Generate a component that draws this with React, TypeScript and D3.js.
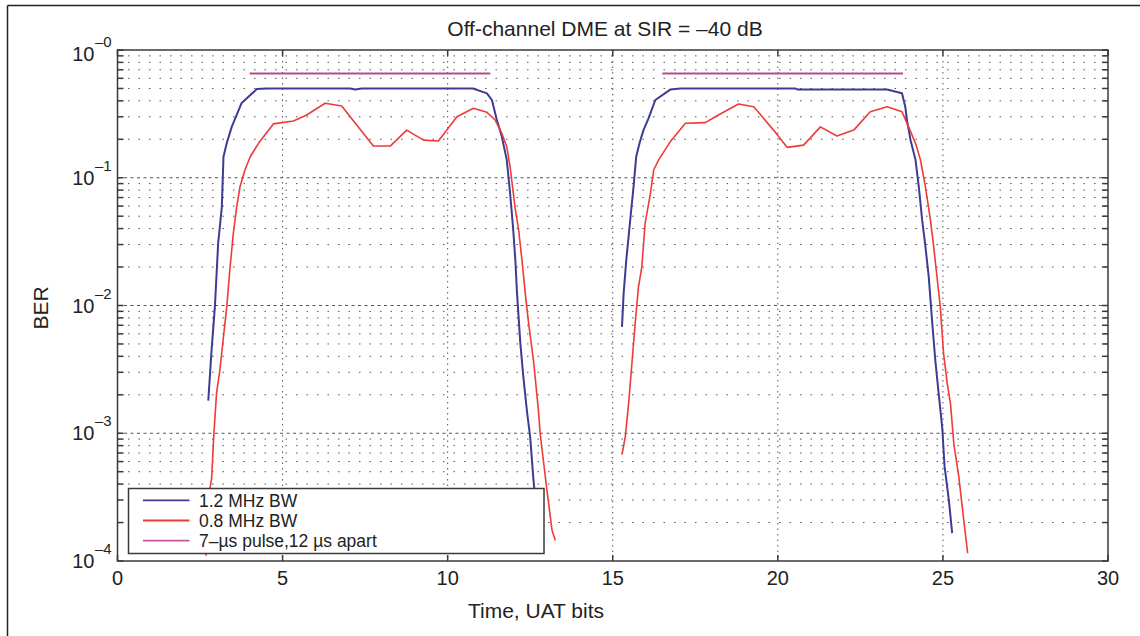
import React from "react";
import * as d3 from "d3";

const W = 1140;
const H = 636;

const titleText = "Off-channel DME at SIR = \u201340 dB";
const xLabelText = "Time, UAT bits";
const yLabelText = "BER";
const xTicks = [0, 5, 10, 15, 20, 25, 30];
const yMajorExps = [0, -1, -2, -3, -4];
const yTickExpLabels = ["\u20130", "\u20131", "\u20132", "\u20133", "\u20134"];
const legendLabels = ["1.2 MHz BW", "0.8 MHz BW", "7\u2013\u00b5s pulse,12 \u00b5s apart"];

const bw12First: [number, number][] = [
  [2.75, 1.8e-3], [2.85, 4.5e-3], [2.95, 9.8e-3], [3.05, 0.031], [3.16, 0.059], [3.21, 0.146],
  [3.31, 0.187], [3.46, 0.25], [3.76, 0.385], [4.22, 0.495], [4.52, 0.5], [7.05, 0.5],
  [7.2, 0.49], [7.4, 0.5], [10.77, 0.5], [11.19, 0.458], [11.34, 0.406], [11.49, 0.283],
  [11.64, 0.21], [11.79, 0.138], [11.89, 0.076], [11.98, 0.041], [12.05, 0.0227], [12.1, 0.0125],
  [12.2, 0.0051], [12.29, 0.0028], [12.4, 0.0015], [12.5, 9.3e-4], [12.59, 4.6e-4],
  [12.7, 2.2e-4], [12.78, 1.2e-4],
];

const bw08First: [number, number][] = [
  [2.68, 1.1e-4], [2.8, 3.7e-4], [2.85, 4.4e-4], [2.92, 1e-3], [3.0, 2.06e-3], [3.1, 3.1e-3],
  [3.2, 5.4e-3], [3.31, 9.8e-3], [3.41, 0.02], [3.51, 0.037], [3.61, 0.059], [3.71, 0.085],
  [3.86, 0.115], [4.02, 0.146], [4.27, 0.186], [4.72, 0.264], [5.33, 0.278], [5.73, 0.31],
  [6.29, 0.383], [6.79, 0.365], [7.75, 0.177], [8.26, 0.177], [8.76, 0.236], [9.27, 0.197],
  [9.72, 0.194], [10.28, 0.3], [10.78, 0.35], [11.19, 0.325], [11.44, 0.283], [11.64, 0.223],
  [11.79, 0.175], [11.89, 0.122], [12.05, 0.056], [12.15, 0.039], [12.25, 0.0227], [12.35, 0.0125],
  [12.45, 0.0073], [12.6, 0.0037], [12.75, 0.0015], [12.8, 1e-3], [13.0, 3.7e-4],
  [13.16, 1.75e-4], [13.26, 1.45e-4],
];

const bw12Second: [number, number][] = [
  [15.28, 6.8e-3], [15.33, 0.0125], [15.41, 0.0227], [15.48, 0.0346], [15.55, 0.053], [15.63, 0.085],
  [15.71, 0.146], [15.81, 0.186], [15.93, 0.236], [16.08, 0.29], [16.29, 0.406], [16.74, 0.49],
  [17.05, 0.5], [20.53, 0.5], [20.6, 0.49], [23.31, 0.49], [23.76, 0.458], [23.86, 0.36],
  [23.91, 0.283], [24.02, 0.197], [24.17, 0.138], [24.27, 0.085], [24.37, 0.047], [24.47, 0.029],
  [24.57, 0.0168], [24.67, 0.0077], [24.77, 0.0037], [24.87, 2.06e-3], [24.98, 1.1e-3],
  [25.05, 5.5e-4], [25.18, 3e-4], [25.28, 1.65e-4],
];

const bw08Second: [number, number][] = [
  [15.28, 6.8e-4], [15.38, 9.4e-4], [15.48, 1.7e-3], [15.58, 3.5e-3], [15.68, 7.3e-3], [15.78, 0.014],
  [15.88, 0.02], [15.98, 0.044], [16.14, 0.075], [16.24, 0.115], [16.39, 0.138], [16.74, 0.191],
  [17.2, 0.267], [17.8, 0.27], [18.2, 0.31], [18.81, 0.378], [19.27, 0.36], [19.87, 0.236],
  [20.28, 0.173], [20.78, 0.18], [21.29, 0.25], [21.79, 0.212], [22.3, 0.236], [22.8, 0.329],
  [23.31, 0.36], [23.76, 0.329], [23.96, 0.25], [24.17, 0.186], [24.32, 0.138], [24.47, 0.085],
  [24.62, 0.047], [24.72, 0.029], [24.82, 0.0168], [24.92, 9.8e-3], [25.02, 4.2e-3], [25.13, 2.46e-3],
  [25.23, 1.7e-3], [25.33, 8.3e-4], [25.48, 4.6e-4], [25.63, 2.1e-4], [25.75, 1.15e-4],
];

const pulseStarts = [4.0, 16.5];
const pulseEnds = [11.29, 23.79];
const pulseLevel = 0.655;

const BLUE = "#3c3c94";
const RED = "#ef3a3a";
const MAGENTA = "#b94790";
const AXIS = "#3a3a3a";
const GRID = "#555";
const FONT = "'Liberation Sans', Arial, sans-serif";

export default function App() {
  const left = 117.5, right = 1108, top = 50, bottom = 561;
  const x = d3.scaleLinear().domain([0, 30]).range([left, right]);
  const y = d3.scaleLog().domain([1e-4, 1]).range([bottom, top]);

  const line = d3
    .line<[number, number]>()
    .x((d) => x(d[0]))
    .y((d) => y(d[1]));

  const minorVals: number[] = [];
  for (let e = -4; e < 0; e++) {
    for (let m = 2; m <= 9; m++) minorVals.push(m * Math.pow(10, e));
  }
  const majorVals = yMajorExps.map((e) => Math.pow(10, e));

  const legX = 128.5, legY = 488.5, legW = 415.5, legH = 65;
  const legRows = [500.3, 520.5, 540.7];
  const legColors = [BLUE, RED, "#c455a8"];

  return (
    <div style={{ position: "fixed", left: 0, top: 0, width: W, height: H, background: "#fff" }}>
      <svg width={W} height={H} style={{ display: "block", fontFamily: FONT }}>
        <rect x={0} y={0} width={W} height={H} fill="#fff" />
        {/* outer frame */}
        <line x1={7.5} y1={5.5} x2={W} y2={5.5} stroke="#222" strokeWidth={1.5} />
        <line x1={7.5} y1={5.5} x2={7.5} y2={H} stroke="#222" strokeWidth={1.5} />

        {/* grid */}
        <g>
          {minorVals.map((v, i) => (
            <line key={"mn" + i} x1={left} x2={right} y1={y(v)} y2={y(v)} stroke={GRID}
              strokeWidth={1} strokeDasharray="1.5,9" />
          ))}
          {majorVals.slice(1, 4).map((v, i) => (
            <line key={"mj" + i} x1={left} x2={right} y1={y(v)} y2={y(v)} stroke={GRID}
              strokeWidth={1} strokeDasharray="3,3.5" />
          ))}
          {xTicks.slice(1, -1).map((t) => (
            <line key={"vg" + t} x1={x(t)} x2={x(t)} y1={top} y2={bottom} stroke={GRID}
              strokeWidth={1} strokeDasharray="1.5,4" />
          ))}
        </g>

        {/* ticks */}
        <g stroke={AXIS} strokeWidth={1.5}>
          {xTicks.map((t) => (
            <g key={"xt" + t}>
              <line x1={x(t)} x2={x(t)} y1={bottom} y2={bottom - 6} />
              <line x1={x(t)} x2={x(t)} y1={top} y2={top + 6} />
            </g>
          ))}
          {[...majorVals, ...minorVals].map((v, i) => (
            <g key={"yt" + i}>
              <line x1={left} x2={left + 6} y1={y(v)} y2={y(v)} />
              <line x1={right} x2={right - 6} y1={y(v)} y2={y(v)} />
            </g>
          ))}
        </g>

        {/* data */}
        <g fill="none" strokeLinejoin="round">
          <path d={line(bw12First) || ""} stroke={BLUE} strokeWidth={2} />
          <path d={line(bw08First) || ""} stroke={RED} strokeWidth={1.6} />
          <path d={line(bw12Second) || ""} stroke={BLUE} strokeWidth={2} />
          <path d={line(bw08Second) || ""} stroke={RED} strokeWidth={1.6} />
          {pulseStarts.map((s, i) => (
            <path key={"p" + i} d={line([[s, pulseLevel], [pulseEnds[i], pulseLevel]]) || ""}
              stroke={MAGENTA} strokeWidth={2} />
          ))}
        </g>

        {/* axes box */}
        <rect x={left} y={top} width={right - left} height={bottom - top} fill="none"
          stroke={AXIS} strokeWidth={1.5} />

        {/* x tick labels */}
        {xTicks.map((t) => (
          <text key={"xl" + t} x={x(t)} y={585} textAnchor="middle" fontSize={20} fill="#222">
            {t}
          </text>
        ))}

        {/* y tick labels */}
        {majorVals.map((v, i) => {
          const off = i === 0 ? 4 : 0;
          return (
            <g key={"yl" + i} fill="#222">
              <text x={94.5} y={y(v) + 7 + off} textAnchor="end" fontSize={20}>10</text>
              <text x={95} y={y(v) - 7 + off} textAnchor="start" fontSize={15}>
                {yTickExpLabels[i]}
              </text>
            </g>
          );
        })}

        {/* title and axis labels */}
        <text x={605} y={36} textAnchor="middle" fontSize={21} fill="#222">{titleText}</text>
        <text x={536} y={618} textAnchor="middle" fontSize={21} fill="#222">{xLabelText}</text>
        <text transform={`translate(48,308) rotate(-90)`} textAnchor="middle" fontSize={21} fill="#222">
          {yLabelText}
        </text>

        {/* legend */}
        <rect x={legX} y={legY} width={legW} height={legH} fill="#fff" stroke={AXIS} strokeWidth={1.5} />
        {legendLabels.map((lab, i) => (
          <g key={"lg" + i}>
            <line x1={143} x2={189.5} y1={legRows[i]} y2={legRows[i]} stroke={legColors[i]} strokeWidth={1.8} />
            <text x={199} y={legRows[i] + 6.5} fontSize={17.5} fill="#222">{lab}</text>
          </g>
        ))}
      </svg>
    </div>
  );
}
